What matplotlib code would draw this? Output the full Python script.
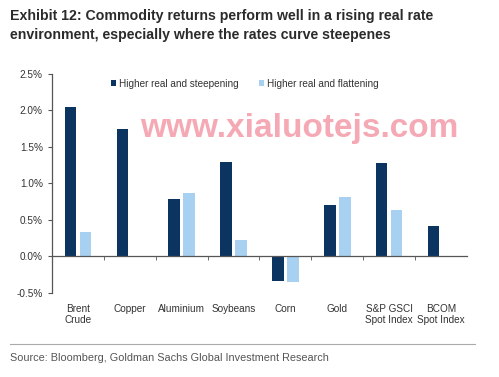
import numpy as np
import matplotlib
matplotlib.use('Agg')
import matplotlib.pyplot as plt
import matplotlib.ticker as mticker

# ── Data ──────────────────────────────────────────────────────────────────────
categories = ['Brent\nCrude', 'Copper', 'Aluminium', 'Soybeans', 'Corn',
              'Gold', 'S&P GSCI\nSpot Index', 'BCOM\nSpot Index']
steepening = [2.05, 1.74, 0.78, 1.29, -0.34, 0.71, 1.28, 0.42]
flattening = [0.33, 0.01, 0.87, 0.22, -0.35, 0.82, 0.64, 0.01]
series_labels = ['Higher real and steepening', 'Higher real and flattening']

DARK = '#0B3461'
LIGHT = '#A8D0F0'
TXT = '#333333'

plt.rcParams['font.family'] = ['Liberation Sans', 'DejaVu Sans']

fig = plt.figure(figsize=(4.99, 3.77), dpi=100)
ax = fig.add_axes([0.104, 0.223, 0.832, 0.581])

x = np.arange(len(categories))
w = 0.22
ax.bar(x - 0.145, steepening, w, color=DARK, label=series_labels[0])
ax.bar(x + 0.145, flattening, w, color=LIGHT, label=series_labels[1])

ax.set_xlim(-0.5, len(categories) - 0.5)
ax.set_ylim(-0.5, 2.5)
ax.yaxis.set_major_locator(mticker.MultipleLocator(0.5))
ax.yaxis.set_major_formatter(mticker.FuncFormatter(lambda v, p: f'{v:.1f}%'))

for s in ['top', 'right']:
    ax.spines[s].set_visible(False)
ax.spines['bottom'].set_position(('data', 0))
for s in ['left', 'bottom']:
    ax.spines[s].set_color('#555555')
    ax.spines[s].set_linewidth(0.9)

ax.set_xticks(x)
ax.set_xticklabels(categories, fontsize=7.2, color=TXT, linespacing=1.15)
ax.set_xticks(np.arange(0.5, len(categories) - 0.5, 1), minor=True)
ax.tick_params(axis='x', which='major', length=0, pad=34)
ax.tick_params(axis='x', which='minor', length=3, direction='out', color='#555555')
ax.tick_params(axis='y', length=3, color='#555555', labelsize=7.2, labelcolor=TXT)

ax.legend(ncol=2, loc='upper center', bbox_to_anchor=(0.465, 1.02),
          frameon=False, fontsize=7.2, handlelength=0.5, handleheight=0.5,
          handletextpad=0.3, columnspacing=2.0, labelcolor=TXT)

# watermark
fig.text(0.60, 0.66, 'www.xialuotejs.com', fontsize=24, fontweight='bold',
         color='#F39AA8', alpha=0.85, ha='center', va='center')

fig.text(0.02, 0.932, 'Exhibit 12: Commodity returns perform well in a rising real rate\n'
         'environment, especially where the rates curve steepenes',
         fontsize=10.2, fontweight='bold', color='#2B2B2B',
         va='center', ha='left', linespacing=1.45)

fig.add_artist(plt.Line2D([0.02, 0.952], [0.088, 0.088], color='#AAAAAA', lw=0.8))
fig.text(0.02, 0.05, 'Source: Bloomberg, Goldman Sachs Global Investment Research',
         fontsize=7.8, color='#555555', va='center')

fig.savefig('out.png', dpi=100)
